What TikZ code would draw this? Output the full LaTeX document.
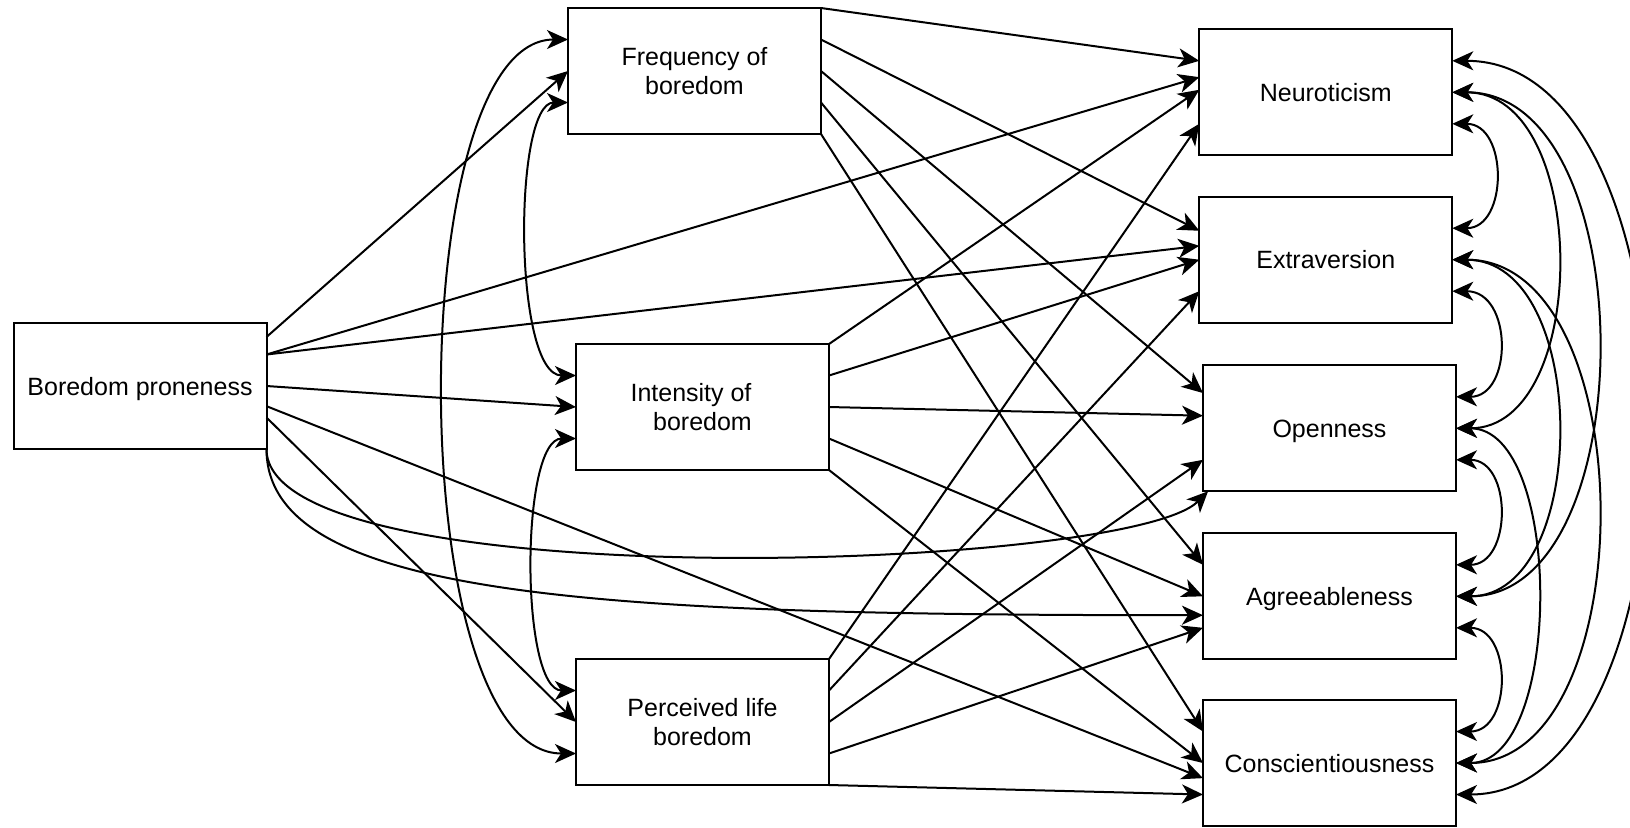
\documentclass[tikz,border=0pt]{standalone}
\usepackage{fontspec}
\setmainfont{Liberation Sans}
\usetikzlibrary{arrows.meta,calc}
\begin{document}
\begin{tikzpicture}[x=0.5pt,y=-0.5pt,
  box/.style={draw, line width=1pt, rectangle, minimum width=126.5pt, minimum height=63pt,
    inner sep=0pt, outer sep=0pt, align=center, anchor=north west, text depth=0pt,
    font=\fontsize{12.5}{14.6}\selectfont},
  tip/.tip={Stealth[length=10.5pt,width=9.5pt,inset=3pt]},
  link/.style={line width=1pt, -tip},
  twoway/.style={line width=1pt, tip-tip},
]
\useasboundingbox (0,0) rectangle (1630,827);
\clip (0,0) rectangle (1630,827);

% predictor
\node[box] (BP) at (13.5,323) {Boredom proneness};
% boredom measures
\node[box] (F) at (568,8) {Frequency of\\boredom};
\node[box] (I) at (576,344) {Intensity of\hspace*{11.5pt}\\boredom};
\node[box] (P) at (576,659) {Perceived life\\boredom};
% personality traits
\node[box] (N) at (1199.3,29.3) {Neuroticism};
\node[box] (E) at (1199.3,196.7) {Extraversion};
\node[box] (O) at (1203,365.3) {Openness};
\node[box] (A) at (1203,533.3) {Agreeableness};
\node[box] (C) at (1203,700) {Conscientiousness};

% quarter points on the left and right sides of every box
\foreach \X in {BP,F,I,P,N,E,O,A,C}{
  \foreach \k/\f in {1/0.25,2/0.5,3/0.75}{
    \coordinate (\X-l\k) at ($(\X.north west)!\f!(\X.south west)$);
    \coordinate (\X-r\k) at ($(\X.north east)!\f!(\X.south east)$);
  }
}

% boredom proneness paths
\draw[link] ($(BP.north east)!0.111!(BP.south east)$) -- (F-l2);
\draw[link] (BP-r1) -- ($(N.north west)!0.38!(N.south west)$);
\draw[link] (BP-r1) -- ($(E.north west)!0.39!(E.south west)$);
\draw[link] (BP-r2) -- (I-l2);
\draw[link] ($(BP.north east)!0.66!(BP.south east)$) -- ($(C.north west)!0.62!(C.south west)$);
\draw[link] (BP-r3) -- (P-l2);
\draw[link] (BP.south east) .. controls +(0,150) and +(-80,80) .. ($(O.south west)!0.02!(O.south east)$);
\draw[link] (BP.south east) .. controls +(0,150) and +(-600,0) .. ($(A.north west)!0.65!(A.south west)$);

% frequency of boredom paths
\draw[link] (F.north east) -- (N-l1);
\draw[link] (F-r1) -- ($(E.north west)!0.27!(E.south west)$);
\draw[link] (F-r2) -- ($(O.north west)!0.22!(O.south west)$);
\draw[link] (F-r3) -- (A-l1);
\draw[link] (F.south east) -- (C-l1);

% intensity of boredom paths
\draw[link] (I.north east) -- ($(N.north west)!0.48!(N.south west)$);
\draw[link] (I-r1) -- (E-l2);
\draw[link] (I-r2) -- ($(O.north west)!0.4!(O.south west)$);
\draw[link] (I-r3) -- (A-l2);
\draw[link] (I.south east) -- (C-l2);

% perceived life boredom paths
\draw[link] (P.north east) -- (N-l3);
\draw[link] (P-r1) -- (E-l3);
\draw[link] (P-r2) -- (O-l3);
\draw[link] (P-r3) -- (A-l3);
\draw[link] (P.south east) -- (C-l3);

% covariances among boredom measures
\draw[twoway] (F-l1) .. controls +(-166,0) and +(-174,0) .. (P-l3);
\draw[twoway] (F-l3) .. controls +(-55,0) and +(-63,0) .. (I-l1);
\draw[twoway] (I-l3) .. controls +(-56,0) and +(-56,0) .. (P-l1);

% covariances among personality traits
\draw[twoway] (N-r3) .. controls +(56,0) and +(56,0) .. (E-r1);
\draw[twoway] (E-r3) .. controls +(60.7,0) and +(57,0) .. (O-r1);
\draw[twoway] (O-r3) .. controls +(56.4,0) and +(56.4,0) .. (A-r1);
\draw[twoway] (A-r3) .. controls +(56.4,0) and +(56.4,0) .. (C-r1);
\draw[twoway] (N-r2) .. controls +(138.7,0) and +(135,0) .. (O-r2);
\draw[twoway] (N-r2) .. controls +(192.4,0) and +(188.7,0) .. (A-r2);
\draw[twoway] (E-r2) .. controls +(138.7,0) and +(135,0) .. (A-r2);
\draw[twoway] (E-r2) .. controls +(192.4,0) and +(188.7,0) .. (C-r2);
\draw[twoway] (O-r2) .. controls +(107.6,0) and +(107.6,0) .. (C-r2);
\draw[twoway] (N-r1) .. controls +(257.7,0) and +(254,0) .. (C-r3);
\end{tikzpicture}
\end{document}
